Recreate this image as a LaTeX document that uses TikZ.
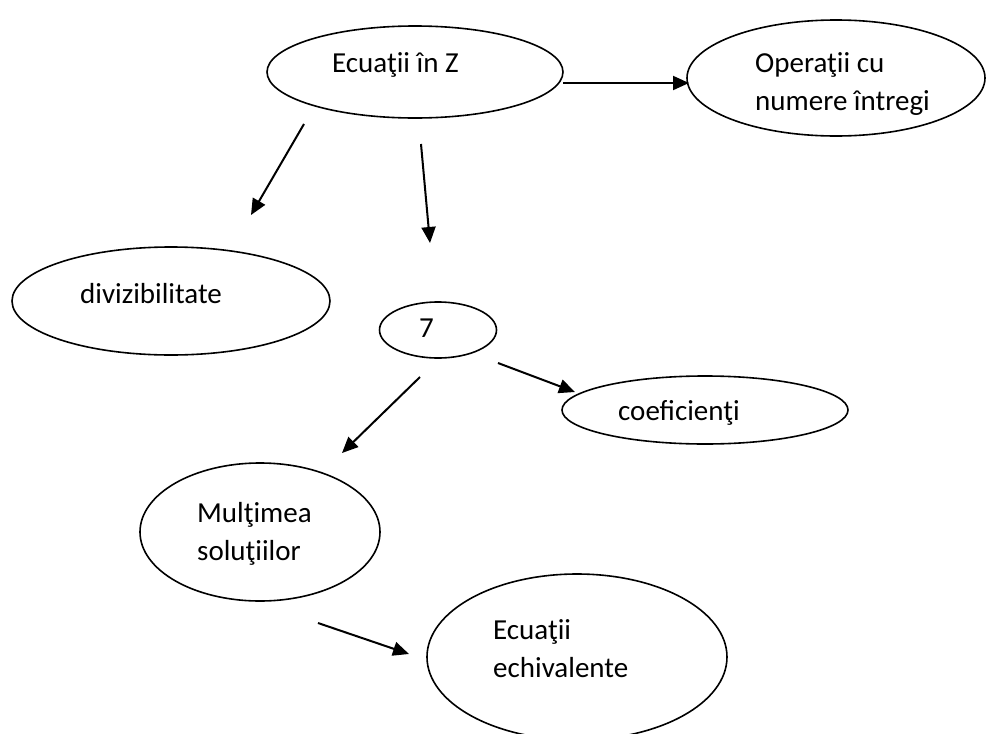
\documentclass[tikz,border=0pt]{standalone}
\usepackage{fontspec}
\setmainfont{Carlito}
\usetikzlibrary{shapes.geometric,arrows.meta}

\begin{document}
\begin{tikzpicture}[
    x=1pt, y=-1pt,
    bubble/.style={ellipse, draw, line width=1.6pt, inner sep=0pt},
    lbl/.style={anchor=base west, inner sep=0pt, align=left, font=\fontsize{29}{38}\selectfont},
    line/.style={draw, -{Triangle[length=16pt,width=14pt]}, line width=2pt}
]
    \useasboundingbox (0,0) rectangle (989,734);

    % ellipses
    \node [bubble, minimum width=296pt, minimum height=92pt] (ecZ) at (415,72) {};
    \node [bubble, minimum width=298pt, minimum height=116pt] (opInt) at (836,78) {};
    \node [bubble, minimum width=318pt, minimum height=108pt] (div) at (171,301) {};
    \node [bubble, minimum width=117pt, minimum height=56pt] (sev) at (438,330) {};
    \node [bubble, minimum width=286pt, minimum height=68pt] (coef) at (705,410) {};
    \node [bubble, minimum width=240pt, minimum height=138pt] (mult) at (260,532) {};
    \node [bubble, minimum width=300pt, minimum height=166pt] (ecEch) at (577,657) {};

    % texts (base = last line)
    \node [lbl] (ecZ-t) at (332,72) {Ecuaţii în Z};
    \node [lbl] (opInt-t) at (755,110) {Operaţii cu\\numere întregi};
    \node [lbl] (div-t) at (80,303) {divizibilitate};
    \node [lbl] (sev-t) at (419,337) {7};
    \node [lbl] (coef-t) at (618,420) {coeficienţi};
    \node [lbl] (mult-t) at (197,560) {Mulţimea\\soluţiilor};
    \node [lbl] (ecEch-t) at (493,677) {Ecuaţii\\echivalente};

    % arrow ends
    \coordinate (ecZ-o1) at (563,83);
    \coordinate (opInt-i) at (689,83);
    \coordinate (ecZ-o2) at (304,124);
    \coordinate (div-i) at (251,215);
    \coordinate (ecZ-o3) at (421,144);
    \coordinate (sev-i) at (430,243);
    \coordinate (sev-o1) at (498,363);
    \coordinate (coef-i) at (575,392);
    \coordinate (sev-o2) at (420,377);
    \coordinate (mult-i) at (342,453);
    \coordinate (mult-o) at (318,623);
    \coordinate (ecEch-i) at (409,654);

    \draw [line] (ecZ-o1) -- (opInt-i);
    \draw [line] (ecZ-o2) -- (div-i);
    \draw [line] (ecZ-o3) -- (sev-i);
    \draw [line] (sev-o1) -- (coef-i);
    \draw [line] (sev-o2) -- (mult-i);
    \draw [line] (mult-o) -- (ecEch-i);
\end{tikzpicture}
\end{document}
